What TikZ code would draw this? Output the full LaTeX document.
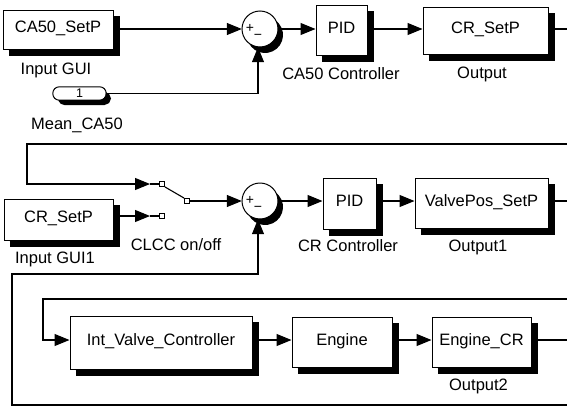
\documentclass[tikz,border=0pt]{standalone}
\usepackage{fontspec}
\setmainfont{Liberation Sans}
\usetikzlibrary{arrows.meta}
\begin{document}
\begin{tikzpicture}[x=1pt,y=-1pt,
  every node/.style={font=\fontsize{16.5}{18}\selectfont},
  blk/.style={draw, fill=white, line width=1pt, inner sep=0pt,
    text height=12pt, text depth=6pt},
  shd/.style={draw=black, line width=6pt, line cap=butt, line join=miter},
  sumblk/.style={circle, minimum size=36pt, inner sep=0pt},
  rim/.style={draw=black, line width=1pt},
  lbl/.style={anchor=base, inner sep=0pt},
  sgn/.style={inner sep=0pt, font=\fontsize{14}{14}\selectfont},
  sig/.style={line width=1.1pt},
  arr/.style={sig, -{Triangle[length=15pt,width=12pt]}},
  port/.style={draw, fill=white, line width=0.9pt, minimum size=5pt, inner sep=0pt},
  ]
\useasboundingbox (0,0) rectangle (567,407);

% coordinates
\coordinate (rA) at (567,144);
\coordinate (rB) at (567,405);
\coordinate (rC) at (567,299);
\coordinate (c2) at (27,184);
\coordinate (c3) at (12,274);
\coordinate (c4) at (43,340);
\coordinate (sa) at (150,184);
\coordinate (sb) at (150,216);

% row 1
\node[blk, minimum width=110pt, minimum height=39pt] (b1) at (58,29.5) {CA50\_SetP};
\node[lbl] (l1) at (56,74) {Input GUI};
\node[inner sep=0pt, minimum width=53pt, minimum height=13pt] (in1) at (79.5,93.5) {};
\node[lbl] (l2) at (77,129) {Mean\_CA50};
\node[sumblk] (sum1) at (260,29) {};
\node[blk, minimum width=51pt, minimum height=50pt] (pid1) at (341.5,30) {PID};
\node[lbl] (l3) at (341,79) {CA50 Controller};
\node[blk, minimum width=125pt, minimum height=47pt] (out1) at (485.5,30.5) {CR\_SetP};
\node[lbl] (l4) at (482,78) {Output};

% row 2
\node[blk, minimum width=109pt, minimum height=41pt] (b2) at (58.5,219.5) {CR\_SetP};
\node[lbl] (l5) at (55,263) {Input GUI1};
\node[lbl] (l6) at (176,250) {CLCC on/off};
\node[sumblk] (sum2) at (260,201) {};
\node[blk, minimum width=53pt, minimum height=51pt] (pid2) at (349.5,203.5) {PID};
\node[lbl] (l7) at (348,251) {CR Controller};
\node[blk, minimum width=133pt, minimum height=50pt] (out2) at (481.5,203) {ValvePos\_SetP};
\node[lbl] (l8) at (478,251) {Output1};

% row 3
\node[blk, minimum width=182pt, minimum height=53pt] (iv) at (161,342.5) {Int\_Valve\_Controller};
\node[blk, minimum width=100pt, minimum height=50pt] (eng) at (342,342) {Engine};
\node[blk, minimum width=99pt, minimum height=50pt] (ecr) at (481.5,342) {Engine\_CR};
\node[lbl] (l9) at (478.5,390) {Output2};

% drop shadows of the rectangular blocks
\draw[shd] ([shift={(6,3.5)}]b1.south west) -- ([shift={(3.5,3.5)}]b1.south east) -- ([shift={(3.5,6)}]b1.north east);
\draw[shd] ([shift={(6,3.5)}]pid1.south west) -- ([shift={(3.5,3.5)}]pid1.south east) -- ([shift={(3.5,6)}]pid1.north east);
\draw[shd] ([shift={(6,3.5)}]out1.south west) -- ([shift={(3.5,3.5)}]out1.south east) -- ([shift={(3.5,6)}]out1.north east);
\draw[shd] ([shift={(6,3.5)}]b2.south west) -- ([shift={(3.5,3.5)}]b2.south east) -- ([shift={(3.5,6)}]b2.north east);
\draw[shd] ([shift={(6,3.5)}]pid2.south west) -- ([shift={(3.5,3.5)}]pid2.south east) -- ([shift={(3.5,6)}]pid2.north east);
\draw[shd] ([shift={(6,3.5)}]out2.south west) -- ([shift={(3.5,3.5)}]out2.south east) -- ([shift={(3.5,6)}]out2.north east);
\draw[shd] ([shift={(6,3.5)}]iv.south west) -- ([shift={(3.5,3.5)}]iv.south east) -- ([shift={(3.5,6)}]iv.north east);
\draw[shd] ([shift={(6,3.5)}]eng.south west) -- ([shift={(3.5,3.5)}]eng.south east) -- ([shift={(3.5,6)}]eng.north east);
\draw[shd] ([shift={(6,3.5)}]ecr.south west) -- ([shift={(3.5,3.5)}]ecr.south east) -- ([shift={(3.5,6)}]ecr.north east);

% crescent shadows of the sum blocks (explicit polygons)
\fill[black] (276.00,20.75) -- (278.79,23.43) -- (281.31,27.39) -- (282.73,31.87) -- (282.93,36.57)
  -- (281.91,41.16) -- (279.75,45.32) -- (276.57,48.79) -- (272.61,51.31) -- (268.13,52.73)
  -- (263.43,52.93) -- (258.84,51.91) -- (254.68,49.75) -- (251.21,46.57) -- (249.00,43.25)
  -- (252.39,45.31) -- (256.88,46.73) -- (261.57,46.93) -- (266.16,45.91) -- (270.32,43.75)
  -- (273.79,40.57) -- (276.31,36.61) -- (277.73,32.12) -- (277.93,27.43) -- (276.91,22.84) -- cycle;
\fill[black] (276.00,192.75) -- (278.79,195.43) -- (281.31,199.39) -- (282.73,203.87) -- (282.93,208.57)
  -- (281.91,213.16) -- (279.75,217.32) -- (276.57,220.79) -- (272.61,223.31) -- (268.13,224.73)
  -- (263.43,224.93) -- (258.84,223.91) -- (254.68,221.75) -- (251.21,218.57) -- (249.00,215.25)
  -- (252.39,217.31) -- (256.88,218.73) -- (261.57,218.93) -- (266.16,217.91) -- (270.32,215.75)
  -- (273.79,212.57) -- (276.31,208.61) -- (277.73,204.12) -- (277.93,199.43) -- (276.91,194.84) -- cycle;
\path[rim] (sum1.center) circle[radius=18];
\path[rim] (sum2.center) circle[radius=18];
\node[sgn] (p1s) at (250,28) {+};
\node[sgn] (m1s) at (258,37) {−};
\node[sgn] (p2s) at (250,200) {+};
\node[sgn] (m2s) at (258,209) {−};

% inport: shadow polygon, rounded outline, number
\fill[black] (58.39,100.72) -- (60.77,103.82) -- (64.5,105) -- (104.5,105) -- (109.10,103.10)
  -- (111,98.5) -- (109.10,93.90) -- (105.85,92.14) -- (105.61,95.72) -- (103.68,98.48)
  -- (101.18,99.78) -- (99.5,100) -- (59.5,100) -- cycle;
\path[rim, rounded corners=6.5pt] (in1.north west) rectangle (in1.south east);
\node[inner sep=0pt, font=\fontsize{12.5}{12}\selectfont] (in1n) at (in1.center) {1};

% row 1 signals
\draw[arr] (b1.east |- sum1) -- (sum1.west);
\draw[arr] (in1.east) -| ([xshift=-2pt]sum1.south);
\draw[arr] (sum1.east) -- (sum1.east -| pid1.west);
\draw[arr] (pid1.east |- sum1) -- (sum1 -| out1.west);
\draw[sig] (out1.east |- sum1) -- (sum1 -| rA);

% switch
\draw[arr] (rA) -| (c2) -- (sa);
\draw[arr] (b2.east |- sb) -- (sb);
\node[port] (q1) at (162,184) {};
\node[port] (q2) at (162,216) {};
\node[port] (q3) at (187,201) {};
\draw[sig] (sa) -- (q1);
\draw[sig] (sb) -- (q2);
\draw[sig] (q1.south east) -- (q3.north west);
\draw[arr] (q3.east) -- (q3 -| sum2.west);

% row 2 signals
\draw[arr] (sum2.east) -- (sum2.east -| pid2.west);
\draw[arr] (pid2.east |- sum2) -- (sum2 -| out2.west);
\draw[sig] (out2.east |- sum2) -- (sum2 -| rA);
\draw[arr] (rB) -| (c3) -| ([xshift=-2pt]sum2.south);

% row 3 signals
\draw[arr] (rC) -| (c4) -- (iv.west |- c4);
\draw[arr] (iv.east |- c4) -- (eng.west |- c4);
\draw[arr] (eng.east |- c4) -- (ecr.west |- c4);
\draw[sig] (ecr.east |- c4) -- (c4 -| rA);
\end{tikzpicture}
\end{document}
